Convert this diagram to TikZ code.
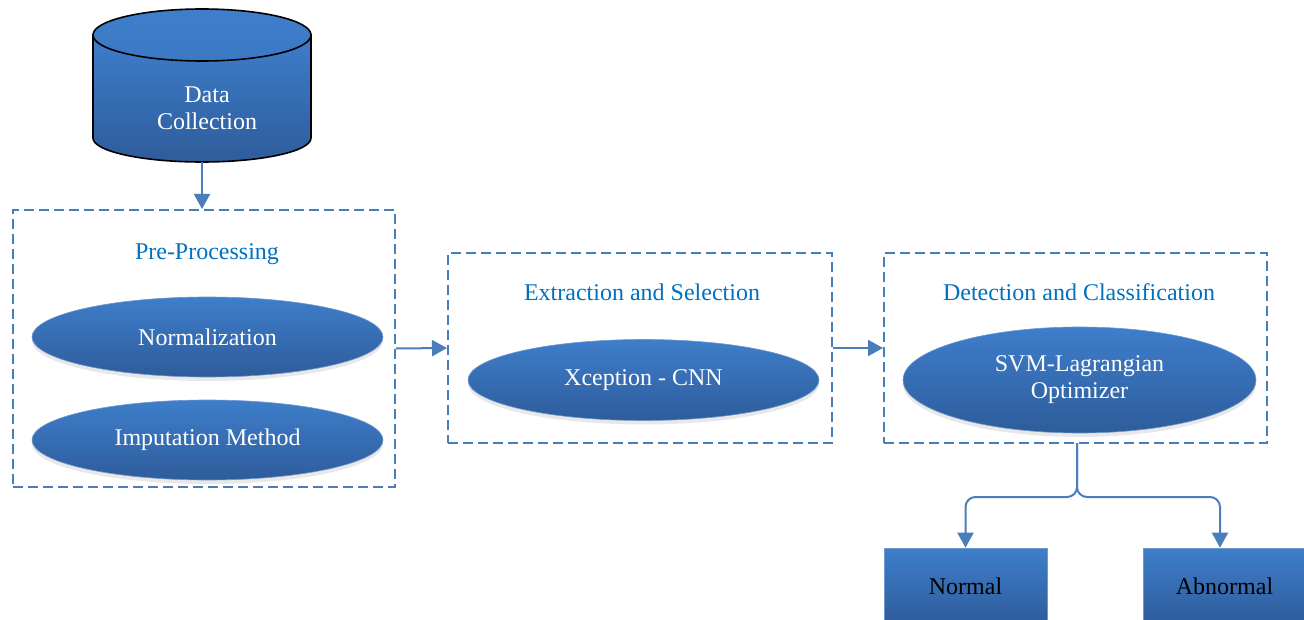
\documentclass[tikz,border=0pt]{standalone}
\usepackage{fontspec}
\setmainfont{Liberation Serif}
\usetikzlibrary{shapes.geometric,arrows.meta,shadows}
\definecolor{topblue}{RGB}{62,126,203}
\definecolor{botblue}{RGB}{46,92,155}
\definecolor{lineblue}{RGB}{74,126,187}
\definecolor{titleblue}{RGB}{0,112,192}
\tikzset{
  txt/.style={font=\fontsize{24}{27}\selectfont},
  dbox/.style={draw=lineblue, line width=2pt, dash pattern=on 10pt off 5pt, inner sep=0pt},
  oval/.style={ellipse, inner sep=0pt, top color=topblue, bottom color=botblue,
     draw=lineblue!80, line width=0.6pt, text=white, align=center, txt,
     drop shadow={opacity=0.18, shadow xshift=0pt, shadow yshift=-4pt}},
  outbox/.style={rectangle, inner sep=0pt, top color=topblue, bottom color=botblue,
     draw=lineblue!80, line width=0.6pt, text=black, txt},
  title/.style={text=titleblue, txt},
  arr/.style={draw=lineblue, line width=2pt, -{Triangle[length=15pt,width=16pt]}},
}
\begin{document}
\begin{tikzpicture}[x=1pt,y=-1pt]
\useasboundingbox (0,0) rectangle (1304,620);
\clip (0,0) rectangle (1304,620);
% cylinder
\path[top color=topblue, bottom color=botblue, draw=black, line width=1.6pt]
  (93,35) -- (93,138) arc[start angle=180, end angle=0, x radius=109, y radius=24] -- (311,35) -- cycle;
\draw[top color=topblue, bottom color=topblue!85!botblue, draw=black, line width=1.6pt]
  (202,35) ellipse [x radius=109, y radius=26];
\node[txt, text=white, align=center] (dc) at (207,108) {Data\\Collection};
\coordinate (dcb) at (202,162);
% boxes
\node[dbox, minimum width=382pt, minimum height=277pt] (pre) at (204,348.5) {};
\node[dbox, minimum width=384pt, minimum height=190pt] (ext) at (640,348) {};
\node[dbox, minimum width=383pt, minimum height=190pt] (det) at (1075.5,348) {};
\node[title] (pret) at (207,254) {Pre-Processing};
\node[title] (extt) at (642,292) {Extraction and Selection};
\node[title] (dett) at (1079,292) {Detection and Classification};
% ellipses
\node[oval, minimum width=351pt, minimum height=80pt] (norm) at (207.5,337) {Normalization};
\node[oval, minimum width=351pt, minimum height=80pt] (imp) at (207.5,440) {Imputation Method};
\node[oval, minimum width=351pt, minimum height=81pt] (xc) at (643.5,380) {Xception - CNN};
\node[oval, minimum width=353pt, minimum height=106pt] (svm) at (1079.5,380) {SVM-Lagrangian\\Optimizer};
% outputs
\node[outbox, minimum width=163pt, minimum height=76pt] (normal) at (965.5,586) {Normal};
\node[outbox, minimum width=163pt, minimum height=76pt] (abn) at (1224.5,586) {Abnormal};
% connectors
\draw[arr] (dcb) -- (dcb |- pre.north);
\draw[arr] (pre.east) -- (ext.west);
\draw[arr] (ext.east) -- (det.west);
\coordinate (split) at (1077,443);
\draw[arr, rounded corners=10pt] (split) -- (1077,497) -| (normal.north);
\draw[arr, rounded corners=10pt] (split) -- (1077,497) -| ([xshift=-4.5pt]abn.north);
\end{tikzpicture}
\end{document}
